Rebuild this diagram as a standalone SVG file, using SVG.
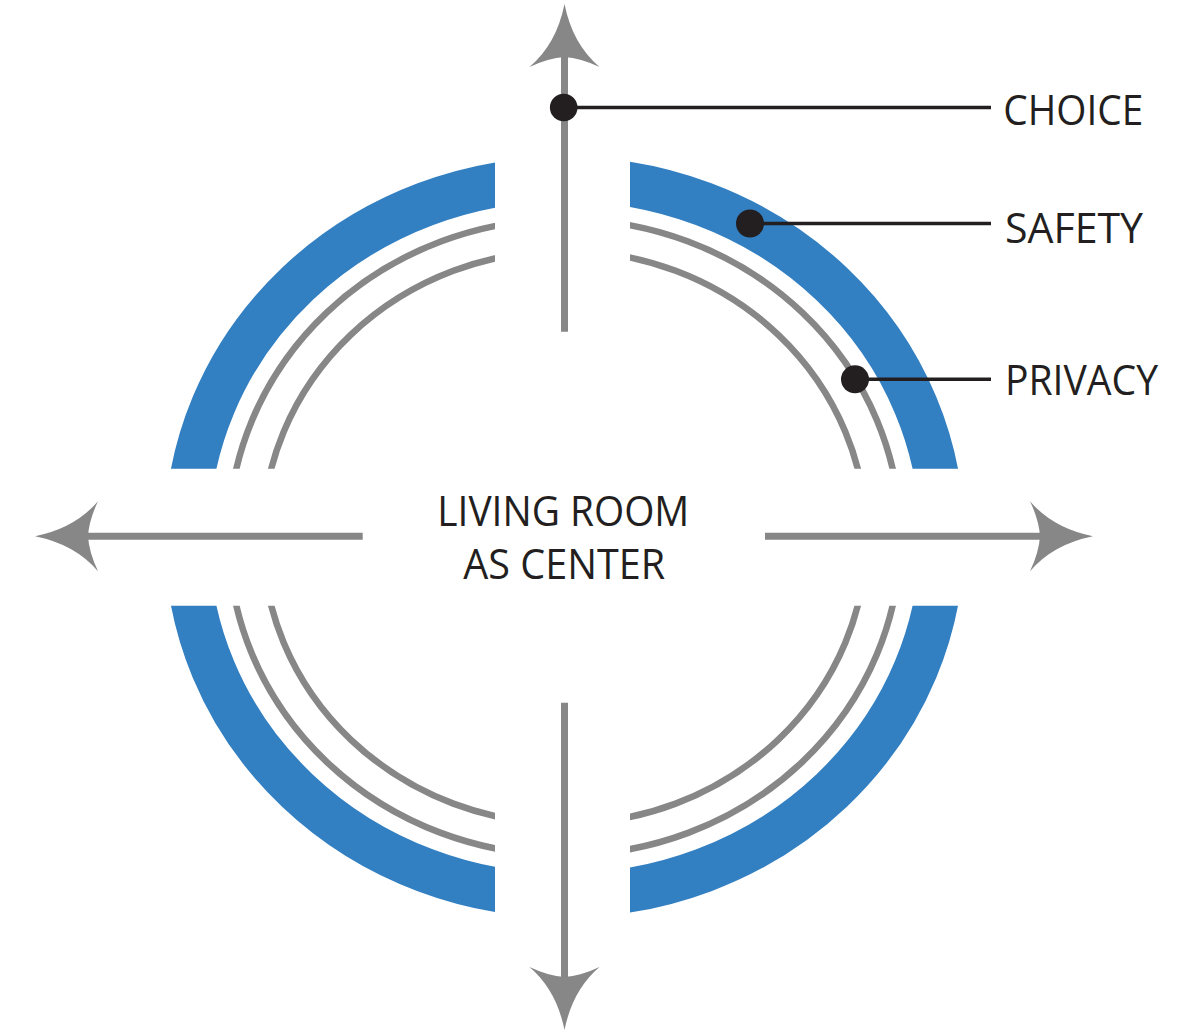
<svg xmlns="http://www.w3.org/2000/svg" width="1201" height="1032" viewBox="0 0 1201 1032">
<style>
.blue{fill:none;stroke:#327fc2;stroke-width:44.5}
.ring{fill:none;stroke:#878787;stroke-width:6.5}
.shaft{stroke:#878787;stroke-width:7;fill:none}
.head{fill:#878787}
.lead{stroke:#231f20;stroke-width:3.6;fill:none}
.dot{fill:#231f20}
.lbl{font-family:"Open Sans","Liberation Sans",sans-serif;font-size:42px;fill:#231f20}
</style>
<defs>
<clipPath id="quad">
<rect x="0" y="0" width="495" height="468.7"/>
<rect x="630" y="0" width="571" height="468.7"/>
<rect x="0" y="605.7" width="495" height="426.3"/>
<rect x="630" y="605.7" width="571" height="426.3"/>
</clipPath>
<path id="ah" d="M0,0 Q-8,40 -35,63 Q-16,54 0,53 Q16,54 35,63 Q8,40 0,0Z"/>
</defs>
<rect width="1201" height="1032" fill="#fff"/>
<g id="rings" clip-path="url(#quad)">
<ellipse class="blue" cx="564.5" cy="537.2" rx="377.75" ry="358.25"/>
<ellipse class="ring" cx="564.5" cy="537.2" rx="336" ry="318"/>
<ellipse class="ring" cx="564.5" cy="537.2" rx="302" ry="286.5"/>
</g>
<g id="connectors">
<line class="shaft" x1="564.5" y1="56" x2="564.5" y2="331.7"/>
<line class="shaft" x1="564.5" y1="702.7" x2="564.5" y2="980"/>
<line class="shaft" x1="86" y1="536.2" x2="362.7" y2="536.2"/>
<line class="shaft" x1="765" y1="536.2" x2="1043" y2="536.2"/>
<use href="#ah" class="head" transform="translate(564.5,4)"/>
<use href="#ah" class="head" transform="translate(564.5,1030) rotate(180)"/>
<use href="#ah" class="head" transform="translate(35,536.2) rotate(-90)"/>
<use href="#ah" class="head" transform="translate(1093,536.2) rotate(90)"/>
<line class="lead" x1="564" y1="107.5" x2="991" y2="107.5"/>
<line class="lead" x1="750" y1="223.5" x2="991" y2="223.5"/>
<line class="lead" x1="855" y1="379.3" x2="991" y2="379.3"/>
</g>
<g id="center">
<text class="lbl" x="563.3" y="526" text-anchor="middle" textLength="252" lengthAdjust="spacingAndGlyphs">LIVING ROOM</text>
<text class="lbl" x="564.2" y="579.3" text-anchor="middle" textLength="201.7" lengthAdjust="spacingAndGlyphs">AS CENTER</text>
</g>
<g id="choice">
<circle class="dot" cx="563.7" cy="107.5" r="13.8"/>
<text class="lbl" x="1003.3" y="125" textLength="140" lengthAdjust="spacingAndGlyphs">CHOICE</text>
</g>
<g id="safety">
<circle class="dot" cx="750" cy="223.5" r="14"/>
<text class="lbl" x="1005" y="243.3" textLength="138" lengthAdjust="spacingAndGlyphs">SAFETY</text>
</g>
<g id="privacy">
<circle class="dot" cx="855" cy="379.3" r="14"/>
<text class="lbl" x="1005" y="395" textLength="153" lengthAdjust="spacingAndGlyphs">PRIVACY</text>
</g>
</svg>
